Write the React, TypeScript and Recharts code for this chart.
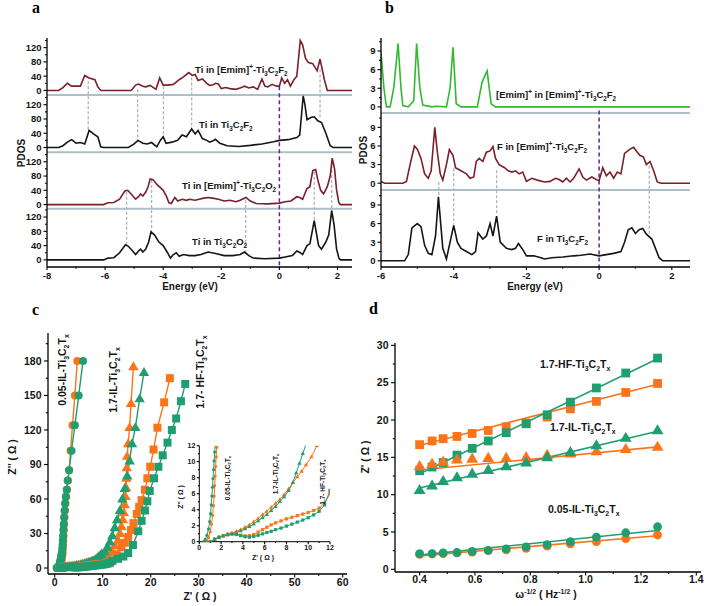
import React from "react";
import { ComposedChart, Line, XAxis, YAxis, ReferenceLine } from "recharts";

const FONT = "Arial, 'Liberation Sans', sans-serif";
const SERIF = "'Liberation Serif', 'Times New Roman', serif";
const ORANGE = "#fb7419";
const GREEN = "#1f9e70";
const WINE = "#7a1f2b";
const INK = "#151515";
const LIME = "#2fba2f";
const SEP = "#adbfc7";
const PURPLE = "#5a2a8c";
const GUIDE = "#a7b6bd";

// ---------- panel a : Ti PDOS (energy, value) ----------
const tiEmimF = [
  [-8, 0], [-7.6, 0], [-7.45, 8], [-7.3, 20], [-7.15, 12], [-7.0, 12], [-6.85, 12], [-6.7, 42], [-6.55, 35],
  [-6.35, 30], [-6.25, 10], [-6.15, 0], [-5.1, 0], [-4.95, 15], [-4.85, 18], [-4.7, 12], [-4.6, 10], [-4.45, 14],
  [-4.25, 3], [-4.12, 35], [-4.0, 15], [-3.85, 15], [-3.65, 17], [-3.45, 30], [-3.3, 38], [-3.12, 50], [-3.0, 42],
  [-2.9, 45], [-2.8, 28], [-2.65, 32], [-2.5, 20], [-2.4, 14], [-2.3, 15], [-2.2, 20], [-2.1, 18], [-2.0, 5],
  [-1.85, 8], [-1.7, 5], [-1.5, 3], [-1.3, 8], [-1.2, 12], [-1.05, 7], [-0.9, 10], [-0.75, 3], [-0.6, 32],
  [-0.5, 12], [-0.4, 10], [-0.25, 17], [-0.1, 12], [0, 12], [0.08, 35], [0.18, 20], [0.28, 30], [0.38, 12],
  [0.5, 30], [0.6, 40], [0.72, 140], [0.8, 128], [0.9, 90], [1.0, 78], [1.15, 75], [1.3, 55], [1.4, 88],
  [1.55, 30], [1.65, 0], [2.5, 0],
];
const tiF = [
  [-8, 0], [-7.6, 0], [-7.45, 5], [-7.3, 15], [-7.15, 22], [-7.0, 12], [-6.85, 14], [-6.7, 10], [-6.55, 48],
  [-6.4, 38], [-6.25, 30], [-6.15, 2], [-6.05, 0], [-5.2, 0], [-5.0, 10], [-4.87, 20], [-4.7, 12], [-4.55, 10],
  [-4.4, 14], [-4.22, 2], [-4.1, 20], [-4.0, 30], [-3.9, 12], [-3.7, 15], [-3.5, 20], [-3.35, 35], [-3.2, 30],
  [-3.02, 52], [-2.9, 38], [-2.8, 48], [-2.65, 25], [-2.5, 20], [-2.4, 15], [-2.3, 18], [-2.2, 23], [-2.05, 12],
  [-1.8, 5], [-1.4, 3], [-1.0, 6], [-0.6, 10], [-0.2, 16], [0, 20], [0.3, 22], [0.6, 28], [0.7, 35], [0.82, 145],
  [0.88, 120], [0.95, 78], [1.1, 85], [1.2, 86], [1.32, 75], [1.45, 70], [1.6, 40], [1.75, 5], [1.85, 0], [2.5, 0],
];
const tiEmimO = [
  [-8, 0], [-6.05, 0], [-5.9, 5], [-5.7, 6], [-5.5, 15], [-5.32, 38], [-5.22, 40], [-5.05, 25], [-4.95, 15],
  [-4.85, 22], [-4.78, 30], [-4.7, 24], [-4.6, 35], [-4.52, 50], [-4.45, 72], [-4.35, 70], [-4.2, 55], [-4.0, 40],
  [-3.9, 25], [-3.8, 5], [-3.72, 3], [-3.6, 20], [-3.5, 10], [-3.35, 15], [-3.2, 12], [-3.1, 15], [-2.9, 12],
  [-2.8, 14], [-2.6, 18], [-2.45, 20], [-2.3, 18], [-2.1, 15], [-1.9, 10], [-1.7, 12], [-1.5, 8], [-1.35, 12],
  [-1.15, 20], [-1.0, 10], [-0.8, 3], [-0.4, 2], [0, 4], [0.2, 8], [0.4, 10], [0.6, 22], [0.7, 20], [0.8, 15],
  [0.95, 45], [1.05, 50], [1.15, 95], [1.25, 98], [1.32, 70], [1.42, 40], [1.52, 30], [1.65, 50], [1.75, 80],
  [1.82, 130], [1.9, 100], [1.97, 40], [2.05, 5], [2.1, 0], [2.5, 0],
];
const tiO = [
  [-8, 0], [-6.05, 0], [-5.9, 5], [-5.7, 6], [-5.5, 20], [-5.3, 42], [-5.2, 38], [-5.05, 25], [-4.95, 15],
  [-4.85, 25], [-4.78, 30], [-4.7, 22], [-4.6, 30], [-4.5, 50], [-4.42, 78], [-4.3, 70], [-4.15, 50], [-4.0, 40],
  [-3.85, 20], [-3.75, 5], [-3.65, 15], [-3.55, 20], [-3.45, 10], [-3.3, 15], [-3.1, 12], [-2.9, 12], [-2.7, 15],
  [-2.45, 22], [-2.2, 18], [-1.9, 12], [-1.6, 12], [-1.35, 15], [-1.2, 22], [-1.05, 12], [-0.9, 5], [-0.5, 3],
  [0, 5], [0.2, 8], [0.45, 12], [0.6, 25], [0.72, 20], [0.8, 15], [0.95, 40], [1.05, 45], [1.2, 110], [1.35, 40],
  [1.45, 30], [1.6, 50], [1.7, 70], [1.8, 138], [1.88, 100], [1.97, 30], [2.05, 5], [2.1, 0], [2.5, 0],
];
// dashed guides: [energy, upper curve value, lower curve value]
const aGuidesTop = [[-6.58, 26, 46], [-4.88, 3, 18], [-3.99, 12, 32], [-3.02, 36, 55], [1.4, 59, 79]];
const aGuidesBottom = [[-5.26, 36, 42], [-4.4, 69, 75], [-1.16, 13, 23], [1.2, 92, 107], [1.8, 125, 135]];

// ---------- panel b : PDOS (energy, value) ----------
const emimInEmim = [
  [-6, 8.8], [-5.92, 3], [-5.85, 0], [-5.75, 0], [-5.65, 3], [-5.53, 10.2], [-5.45, 3], [-5.4, 0.2], [-5.25, 0],
  [-5.1, 1], [-5.02, 10.2], [-4.93, 3], [-4.85, 0.3], [-4.6, 0], [-4.5, 0.1], [-4.2, 0], [-4.1, 3], [-4.02, 9.6],
  [-3.93, 0.5], [-3.8, 0], [-3.35, 0], [-3.22, 4], [-3.08, 5.8], [-2.97, 0.5], [-2.85, 0], [2.5, 0],
];
const fInEmim = [
  [-6, 0.3], [-5.9, 0], [-5.4, 0], [-5.3, 0.3], [-5.2, 3], [-5.08, 6], [-5.0, 5.5], [-4.9, 4], [-4.8, 1.5],
  [-4.7, 0.8], [-4.62, 2], [-4.52, 9], [-4.45, 5], [-4.37, 1.5], [-4.3, 0.5], [-4.2, 3], [-4.12, 5.4], [-4.02, 4.5],
  [-3.95, 2.5], [-3.8, 2], [-3.65, 1.5], [-3.55, 0.8], [-3.45, 1], [-3.38, 3.5], [-3.3, 4], [-3.2, 3.5], [-3.1, 5],
  [-3.0, 5.2], [-2.92, 5.9], [-2.85, 4], [-2.75, 3], [-2.6, 2.5], [-2.5, 2], [-2.4, 1.8], [-2.3, 2], [-2.2, 1.5],
  [-2.1, 1.8], [-2.0, 0.3], [-1.85, 0.8], [-1.7, 0.5], [-1.5, 0.2], [-1.35, 0.3], [-1.2, 0.8], [-1.1, 0.6],
  [-1.0, 0.2], [-0.9, 0.8], [-0.8, 0.2], [-0.7, 0.8], [-0.55, 2.3], [-0.45, 1], [-0.35, 0.5], [-0.2, 1],
  [-0.05, 0.5], [0, 0.4], [0.1, 2.5], [0.2, 1.2], [0.3, 1.8], [0.4, 0.8], [0.5, 1.8], [0.6, 1.5], [0.7, 4.8],
  [0.85, 5.5], [0.95, 5.8], [1.05, 5], [1.12, 4.5], [1.22, 4.2], [1.3, 3], [1.4, 3.5], [1.5, 2], [1.6, 0.2],
  [1.7, 0], [2.5, 0],
];
const fInTi = [
  [-6, 0], [-5.35, 0], [-5.25, 1], [-5.15, 5.3], [-5.0, 6], [-4.9, 5.5], [-4.8, 2.5], [-4.7, 1.2], [-4.6, 1],
  [-4.5, 4], [-4.42, 10.3], [-4.3, 2], [-4.2, 0.3], [-4.1, 3], [-4.0, 5.7], [-3.9, 3], [-3.8, 2], [-3.65, 1.5],
  [-3.5, 1], [-3.4, 1.5], [-3.33, 4.5], [-3.2, 3.5], [-3.1, 4], [-3.0, 6], [-2.92, 4], [-2.82, 7.2], [-2.72, 3],
  [-2.55, 2], [-2.4, 1.8], [-2.3, 2], [-2.22, 2.8], [-2.1, 1.8], [-2.0, 0.8], [-1.8, 0.8], [-1.6, 0.5], [-1.5, 0.3],
  [-1.3, 0.5], [-1.0, 0.6], [-0.7, 0.8], [-0.5, 0.9], [-0.25, 1.1], [0, 0.8], [0.2, 1.0], [0.4, 1.2], [0.6, 1.5],
  [0.7, 3], [0.8, 5], [0.9, 5.3], [1.0, 4.4], [1.1, 5], [1.2, 5.2], [1.3, 4.3], [1.45, 3.5], [1.55, 2], [1.65, 0.5],
  [1.75, 0], [2.5, 0],
];
const bGuides = [[-4.41, 0.2, 10.3], [-4.0, 2.4, 5.8], [-2.82, 2.1, 7.4], [1.38, 2.8, 4.0]];

// ---------- panel c : Nyquist (Z', Z'') ----------
const c05Orange = [
  [0.7, 0], [0.85, 0.5], [1.0, 1.2], [1.12, 2.2], [1.22, 3.3], [1.3, 4.5], [1.36, 5.7], [1.41, 7], [1.46, 8.2],
  [1.5, 9.4], [1.55, 10.6], [1.6, 11.8], [1.65, 14], [1.7, 17], [1.75, 20], [1.8, 24], [1.85, 28], [1.9, 33],
  [1.97, 38], [2.05, 44], [2.15, 50], [2.25, 56], [2.4, 62], [2.55, 68], [2.75, 76], [3.0, 85], [3.3, 102],
  [3.7, 124], [4.2, 150], [4.7, 180],
];
const c05Green = [
  [0.4, 0], [0.55, 0.3], [0.7, 0.8], [0.85, 1.6], [0.95, 2.5], [1.03, 3.5], [1.1, 4.6], [1.16, 5.7], [1.21, 6.8],
  [1.26, 7.9], [1.31, 9], [1.36, 10.1], [1.41, 11.2], [1.46, 12.3], [1.52, 14], [1.58, 17], [1.63, 20], [1.68, 24],
  [1.74, 28], [1.8, 33], [1.88, 38], [1.96, 44], [2.05, 50], [2.15, 56], [2.3, 62], [2.5, 68], [2.7, 76], [3.0, 85],
  [3.5, 102], [4.2, 124], [5.0, 150], [5.9, 180],
];
const cILOrange = [
  [1.0, 0], [1.4, 0.3], [1.8, 0.55], [2.2, 0.75], [2.6, 0.95], [3.0, 1.1], [3.4, 1.3], [3.8, 1.5], [4.2, 1.8],
  [4.6, 2.1], [5.0, 2.5], [5.4, 2.9], [5.8, 3.4], [6.2, 3.8], [6.6, 4.3], [7.0, 4.8], [7.4, 5.3], [7.8, 5.9],
  [8.2, 6.6], [8.6, 7.4], [9.0, 8.1], [9.4, 8.8], [9.8, 9.6], [10.3, 10.6], [10.8, 12], [11.2, 13], [11.8, 15],
  [12.5, 19], [13.2, 24], [13.6, 30], [13.9, 36], [14.2, 42], [14.4, 48], [14.6, 55], [14.75, 62], [14.85, 70],
  [14.95, 78], [15.0, 87], [15.1, 97], [15.3, 108], [15.6, 122], [15.9, 143], [16.4, 175],
];
const cILGreen = [
  [1.0, 0], [1.4, 0.3], [1.8, 0.55], [2.2, 0.72], [2.6, 0.88], [3.0, 1.0], [3.4, 1.15], [3.8, 1.35], [4.2, 1.6],
  [4.6, 1.9], [5.0, 2.2], [5.4, 2.6], [5.8, 3.0], [6.2, 3.4], [6.6, 3.9], [7.0, 4.4], [7.4, 5.0], [7.8, 5.6],
  [8.2, 6.4], [8.6, 7.4], [8.9, 8.6], [9.2, 9.8], [9.5, 11], [9.8, 12.2], [10.4, 14], [11, 18], [11.5, 22.6],
  [12, 28], [12.5, 35], [13, 42], [13.6, 50], [14.1, 60], [14.6, 69], [15.1, 80], [15.6, 93], [16.1, 108],
  [16.8, 122], [17.7, 147], [18.6, 170],
];
const cHFOrange = [
  [1.0, 0], [1.4, 0.3], [1.8, 0.55], [2.2, 0.75], [2.6, 0.92], [3.0, 1.0], [3.4, 0.95], [3.8, 0.82], [4.2, 0.72],
  [4.6, 0.75], [5.0, 0.9], [5.4, 1.2], [5.8, 1.5], [6.2, 1.8], [6.6, 2.1], [7.0, 2.35], [7.5, 2.6], [8.0, 2.85],
  [8.5, 3.05], [9.0, 3.25], [9.5, 3.45], [10.0, 3.65], [10.5, 3.9], [11.0, 4.2], [11.5, 4.8], [12.0, 6.0],
  [12.9, 12], [13.9, 18], [14.6, 22], [15.3, 27], [15.9, 33], [16.4, 39], [17.1, 47], [17.6, 53], [18.1, 59],
  [18.8, 68], [19.3, 78], [19.9, 88], [20.6, 103], [21.4, 122], [22.8, 144], [24.0, 165],
];
const cHFGreen = [
  [1.0, 0], [1.4, 0.3], [1.8, 0.55], [2.2, 0.72], [2.6, 0.86], [3.0, 0.95], [3.4, 0.9], [3.8, 0.75], [4.2, 0.62],
  [4.6, 0.56], [5.0, 0.65], [5.4, 0.8], [5.8, 0.98], [6.2, 1.15], [6.6, 1.3], [7.0, 1.5], [7.5, 1.7], [8.0, 1.95],
  [8.5, 2.2], [9.0, 2.45], [9.5, 2.7], [10.0, 3.0], [10.5, 3.35], [11.0, 3.8], [11.5, 4.6], [12.0, 6.4],
  [13.2, 8], [14.3, 10], [15.3, 13], [16.3, 20], [17.4, 32], [18.1, 41], [18.8, 50], [19.3, 58], [19.8, 67],
  [20.7, 78], [21.6, 88], [22.5, 98], [23.5, 109], [24.4, 120], [25.3, 130], [26.3, 145], [27.2, 160],
];

// ---------- panel d : Z' vs w^-1/2 ----------
const dOmega = [0.4, 0.445, 0.485, 0.535, 0.59, 0.648, 0.713, 0.785, 0.861, 0.945, 1.039, 1.145, 1.26];
const dHFOrange = [16.7, 17.2, 17.5, 17.8, 18.2, 18.6, 19.1, 19.6, 20.4, 21.5, 22.5, 23.7, 24.9];
const dHFGreen = [13.2, 13.7, 14.3, 15.3, 16.2, 17.2, 18.3, 19.5, 20.7, 22.4, 24.3, 26.3, 28.3];
const dILOrange = [13.8, 14.1, 14.4, 14.7, 14.8, 14.9, 14.9, 15.0, 15.3, 15.5, 15.8, 16.1, 16.4];
const dILGreen = [10.6, 11.2, 11.8, 12.3, 12.8, 13.3, 13.8, 14.3, 15.0, 15.7, 16.6, 17.6, 18.6];
const d05Green = [2.1, 2.1, 2.2, 2.25, 2.4, 2.55, 2.75, 3.0, 3.3, 3.7, 4.3, 4.9, 5.7];
const d05Orange = [2.0, 2.05, 2.1, 2.2, 2.3, 2.5, 2.6, 2.8, 3.1, 3.4, 3.7, 4.1, 4.6];
const dFitX = [0.4, 1.26];
const dHFOrangeFit = [16.6, 24.8];
const dHFGreenFit = [12.8, 28.2];
const dILOrangeFit = [13.3, 16.4];
const dILGreenFit = [10.9, 18.5];
const d05GreenFit = [1.9, 5.2];
const d05OrangeFit = [1.8, 4.5];

// ---------- helpers ----------
const shifted = (pairs: number[][], off: number) => pairs.map(([x, y]) => ({ x, y: y + off }));
const toPts = (pairs: number[][]) => pairs.map(([x, y]) => ({ x, y }));
const zipPts = (xs: number[], ys: number[]) => xs.map((x, i) => ({ x, y: ys[i] }));
const near = (a: number, b: number) => Math.abs(a - b) < 1e-6;

const stackTicks = (offs: number[], major: number[], minor: number[]) =>
  offs.flatMap((o) => [...major, ...minor].map((m) => +(o + m).toFixed(4)));
const stackLabel = (offs: number[], major: number[]) => (v: number) => {
  for (const o of offs) for (const m of major) if (near(v, o + m)) return String(m);
  return null;
};
const listLabel = (major: number[], fmt: (v: number) => string = String) => (v: number) =>
  major.some((m) => near(m, v)) ? fmt(v) : null;

type TickOpts = { side: "left" | "bottom"; label: (v: number) => string | null; fs: number; len?: number; gap?: number };
const tickRenderer = ({ side, label, fs, len = 4, gap = 2 }: TickOpts) => (props: any) => {
  const { x, y, payload } = props;
  const txt = label(payload.value);
  const l = txt === null ? len * 0.55 : len;
  if (side === "left") {
    return (
      <g>
        <line x1={x} x2={x - l} y1={y} y2={y} stroke="#000" strokeWidth={1.1} />
        {txt !== null && (
          <text x={x - len - gap} y={y} dy={fs * 0.36} textAnchor="end" fontSize={fs} fontWeight="bold" fontFamily={FONT} fill={INK}>
            {txt}
          </text>
        )}
      </g>
    );
  }
  return (
    <g>
      <line x1={x} x2={x} y1={y} y2={y + l} stroke="#000" strokeWidth={1.1} />
      {txt !== null && (
        <text x={x} y={y + len + gap + fs * 0.72} textAnchor="middle" fontSize={fs} fontWeight="bold" fontFamily={FONT} fill={INK}>
          {txt}
        </text>
      )}
    </g>
  );
};

function Mark({ cx, cy, shape, r, color }: { cx?: number; cy?: number; shape: string; r: number; color: string }) {
  if (cx == null || cy == null || Number.isNaN(cx) || Number.isNaN(cy)) return null;
  if (shape === "circle") return <circle cx={cx} cy={cy} r={r} fill={color} />;
  if (shape === "square") return <rect x={cx - r} y={cy - r} width={2 * r} height={2 * r} fill={color} />;
  const h = r * 1.2;
  return <polygon points={`${cx},${cy - h} ${cx - h * 0.95},${cy + h * 0.62} ${cx + h * 0.95},${cy + h * 0.62}`} fill={color} />;
}

// text with _x / ^x (or _{..} / ^{..}) sub- and superscripts
function Rich({ x, y, s, size = 10, anchor = "start", rotate = 0 }: { x: number; y: number; s: string; size?: number; anchor?: "start" | "middle" | "end"; rotate?: number }) {
  const parts: { t: string; k: number }[] = [];
  let buf = "";
  let i = 0;
  while (i < s.length) {
    const c = s[i];
    if (c === "_" || c === "^") {
      if (buf) parts.push({ t: buf, k: 0 });
      buf = "";
      let t = "";
      if (s[i + 1] === "{") {
        const j = s.indexOf("}", i);
        t = s.slice(i + 2, j);
        i = j + 1;
      } else {
        t = s[i + 1];
        i += 2;
      }
      parts.push({ t, k: c === "_" ? 1 : -1 });
    } else {
      buf += c;
      i++;
    }
  }
  if (buf) parts.push({ t: buf, k: 0 });
  let cur = 0;
  return (
    <text
      x={x}
      y={y}
      fontSize={size}
      fontWeight="bold"
      fontFamily={FONT}
      fill={INK}
      textAnchor={anchor}
      transform={rotate ? `rotate(${rotate} ${x} ${y})` : undefined}
    >
      {parts.map((p, idx) => {
        const target = p.k === 1 ? size * 0.3 : p.k === -1 ? -size * 0.42 : 0;
        const dy = target - cur;
        cur = target;
        return (
          <tspan key={idx} dy={dy} fontSize={p.k ? size * 0.66 : size}>
            {p.t}
          </tspan>
        );
      })}
    </text>
  );
}

const frameAxes = (xd: number[], yd: number[]) => [
  <XAxis key="ft" xAxisId="top" orientation="top" type="number" domain={xd} allowDataOverflow tick={false} tickLine={false} height={0} axisLine={{ stroke: "#000", strokeWidth: 1.3 }} />,
  <YAxis key="fr" yAxisId="right" orientation="right" type="number" domain={yd} allowDataOverflow tick={false} tickLine={false} width={0} axisLine={{ stroke: "#000", strokeWidth: 1.3 }} />,
];

const guideLines = (rows: number[][], offTop: number, offBottom: number) =>
  rows.map(([e, a, b], i) => (
    <ReferenceLine
      key={`g${offTop}-${i}`}
      segment={[{ x: e, y: a + offTop }, { x: e, y: b + offBottom }]}
      stroke={GUIDE}
      strokeWidth={1.3}
      strokeDasharray="3 2"
      ifOverflow="visible"
    />
  ));

// ---------- panel a ----------
const aOffsets = [475, 315, 155, 0];
const aDomainY = [-20, 622];
const aDomainX = [-8, 2.5];

function PanelA() {
  const yTicks = stackTicks(aOffsets, [0, 40, 80, 120], [20, 60, 100, 140]);
  const curves: [number[][], string][] = [[tiEmimF, WINE], [tiF, INK], [tiEmimO, WINE], [tiO, INK]];
  return (
    <ComposedChart width={353} height={300} margin={{ top: 38, right: 1, left: 0, bottom: 0 }}>
      <XAxis dataKey="x" type="number" domain={aDomainX} allowDataOverflow ticks={[-8, -7, -6, -5, -4, -3, -2, -1, 0, 1, 2]} interval={0}
        tick={tickRenderer({ side: "bottom", label: listLabel([-8, -6, -4, -2, 0, 2]), fs: 9.5, len: 3 })}
        tickLine={false} tickSize={0} tickMargin={0} height={33} axisLine={{ stroke: "#000", strokeWidth: 1.3 }} />
      <YAxis type="number" domain={aDomainY} allowDataOverflow ticks={yTicks} interval={0}
        tick={tickRenderer({ side: "left", label: stackLabel(aOffsets, [0, 40, 80, 120]), fs: 9.5, len: 3.5 })}
        tickLine={false} tickSize={0} tickMargin={0} width={47} axisLine={{ stroke: "#000", strokeWidth: 1.3 }} />
      {frameAxes(aDomainX, aDomainY)}
      {[462, 302, 143].map((v) => (
        <ReferenceLine key={`s${v}`} y={v} stroke={SEP} strokeWidth={2} />
      ))}
      {guideLines(aGuidesTop, 475, 315)}
      {guideLines(aGuidesBottom, 155, 0)}
      <ReferenceLine segment={[{ x: 0, y: 487 }, { x: 0, y: -20 }]} stroke={PURPLE} strokeWidth={1.5} strokeDasharray="4 3" />
      {curves.map(([d, c], i) => (
        <Line key={i} data={shifted(d, aOffsets[i])} dataKey="y" type="linear" stroke={c} strokeWidth={1.6} dot={false} activeDot={false} isAnimationActive={false} />
      ))}
    </ComposedChart>
  );
}

// ---------- panel b ----------
const bOffsets = [24.8, 12.5, 0];
const bDomainY = [-1, 35.9];
const bDomainX = [-6, 2.5];

function PanelB() {
  const yTicks = stackTicks(bOffsets, [0, 3, 6, 9], [1.5, 4.5, 7.5, 10.5]);
  const curves: [number[][], string][] = [[emimInEmim, LIME], [fInEmim, WINE], [fInTi, INK]];
  return (
    <ComposedChart width={353} height={300} margin={{ top: 38, right: 16, left: 0, bottom: 0 }}>
      <XAxis dataKey="x" type="number" domain={bDomainX} allowDataOverflow ticks={[-6, -5, -4, -3, -2, -1, 0, 1, 2]} interval={0}
        tick={tickRenderer({ side: "bottom", label: listLabel([-6, -4, -2, 0, 2]), fs: 9.5, len: 3 })}
        tickLine={false} tickSize={0} tickMargin={0} height={33} axisLine={{ stroke: "#000", strokeWidth: 1.3 }} />
      <YAxis type="number" domain={bDomainY} allowDataOverflow ticks={yTicks} interval={0}
        tick={tickRenderer({ side: "left", label: stackLabel(bOffsets, [0, 3, 6, 9]), fs: 9.5, len: 3.5 })}
        tickLine={false} tickSize={0} tickMargin={0} width={28} axisLine={{ stroke: "#000", strokeWidth: 1.3 }} />
      {frameAxes(bDomainX, bDomainY)}
      {[23.8, 11.4].map((v) => (
        <ReferenceLine key={`s${v}`} y={v} stroke={SEP} strokeWidth={2} />
      ))}
      {guideLines(bGuides, 12.5, 0)}
      <ReferenceLine segment={[{ x: 0, y: 24.2 }, { x: 0, y: -1 }]} stroke={PURPLE} strokeWidth={1.5} strokeDasharray="4 3" />
      {curves.map(([d, c], i) => (
        <Line key={i} data={shifted(d, bOffsets[i])} dataKey="y" type="linear" stroke={c} strokeWidth={1.6} dot={false} activeDot={false} isAnimationActive={false} />
      ))}
    </ComposedChart>
  );
}

// ---------- panel c ----------
const cSeries: { d: number[][]; c: string; s: string }[] = [
  { d: c05Orange, c: ORANGE, s: "circle" },
  { d: c05Green, c: GREEN, s: "circle" },
  { d: cILOrange, c: ORANGE, s: "triangle" },
  { d: cILGreen, c: GREEN, s: "triangle" },
  { d: cHFOrange, c: ORANGE, s: "square" },
  { d: cHFGreen, c: GREEN, s: "square" },
];
const cDomainX = [-1.4, 60.9];
const cDomainY = [-5.2, 204.3];

function PanelC() {
  return (
    <ComposedChart width={353} height={306} margin={{ top: 33, right: 6, left: 0, bottom: 0 }}>
      <XAxis dataKey="x" type="number" domain={cDomainX} allowDataOverflow ticks={[0, 5, 10, 15, 20, 25, 30, 35, 40, 45, 50, 55, 60]} interval={0}
        tick={tickRenderer({ side: "bottom", label: listLabel([0, 10, 20, 30, 40, 50, 60]), fs: 10.5, len: 3.5, gap: 1 })}
        tickLine={false} tickSize={0} tickMargin={0} height={32} axisLine={{ stroke: "#000", strokeWidth: 1.3 }} />
      <YAxis type="number" domain={cDomainY} allowDataOverflow ticks={[0, 15, 30, 45, 60, 75, 90, 105, 120, 135, 150, 165, 180, 195]} interval={0}
        tick={tickRenderer({ side: "left", label: listLabel([0, 30, 60, 90, 120, 150, 180]), fs: 10.5, len: 4, gap: 2.5 })}
        tickLine={false} tickSize={0} tickMargin={0} width={48} axisLine={{ stroke: "#000", strokeWidth: 1.3 }} />
      {frameAxes(cDomainX, cDomainY)}
      {cSeries.map((sr, i) => (
        <Line key={i} data={toPts(sr.d)} dataKey="y" type="linear" stroke={sr.c} strokeWidth={1.4} activeDot={false} isAnimationActive={false}
          dot={(p: any) => <Mark key={`c${i}-${p.index}`} cx={p.cx} cy={p.cy} shape={sr.s} r={sr.s === "triangle" ? 4.6 : 4} color={sr.c} />} />
      ))}
    </ComposedChart>
  );
}

const insetDomain = [0, 12];
function InsetC() {
  const t = [0, 1, 2, 3, 4, 5, 6, 7, 8, 9, 10, 11, 12];
  const maj = [0, 2, 4, 6, 8, 10, 12];
  return (
    <ComposedChart width={158} height={125} margin={{ top: 5.7, right: 4, left: 0, bottom: 0 }}>
      <XAxis dataKey="x" type="number" domain={insetDomain} allowDataOverflow ticks={t} interval={0}
        tick={tickRenderer({ side: "bottom", label: listLabel(maj), fs: 7, len: 2.5, gap: 1 })}
        tickLine={false} tickSize={0} tickMargin={0} height={23.3} axisLine={{ stroke: "#000", strokeWidth: 1 }} />
      <YAxis type="number" domain={insetDomain} allowDataOverflow ticks={t} interval={0}
        tick={tickRenderer({ side: "left", label: listLabel(maj), fs: 7, len: 2.5, gap: 1.5 })}
        tickLine={false} tickSize={0} tickMargin={0} width={23.3} axisLine={{ stroke: "#000", strokeWidth: 1 }} />
      {frameAxes(insetDomain, insetDomain)}
      {cSeries.map((sr, i) => (
        <Line key={i} data={toPts(sr.d)} dataKey="y" type="linear" stroke={sr.c} strokeWidth={1} activeDot={false} isAnimationActive={false}
          dot={(p: any) => <Mark key={`i${i}-${p.index}`} cx={p.cx} cy={p.cy} shape={sr.s} r={sr.s === "triangle" ? 1.9 : 1.6} color={sr.c} />} />
      ))}
    </ComposedChart>
  );
}

// ---------- panel d ----------
const dSeries: { y: number[]; fit: number[]; c: string; s: string }[] = [
  { y: dHFOrange, fit: dHFOrangeFit, c: ORANGE, s: "square" },
  { y: dHFGreen, fit: dHFGreenFit, c: GREEN, s: "square" },
  { y: dILOrange, fit: dILOrangeFit, c: ORANGE, s: "triangle" },
  { y: dILGreen, fit: dILGreenFit, c: GREEN, s: "triangle" },
  { y: d05Orange, fit: d05OrangeFit, c: ORANGE, s: "circle" },
  { y: d05Green, fit: d05GreenFit, c: GREEN, s: "circle" },
];
const dDomainX = [0.311, 1.417];
const dDomainY = [-0.36, 30.32];

function PanelD() {
  return (
    <ComposedChart width={353} height={306} margin={{ top: 43, right: 5, left: 0, bottom: 0 }}>
      <XAxis dataKey="x" type="number" domain={dDomainX} allowDataOverflow ticks={[0.4, 0.5, 0.6, 0.7, 0.8, 0.9, 1.0, 1.1, 1.2, 1.3, 1.4]} interval={0}
        tick={tickRenderer({ side: "bottom", label: listLabel([0.4, 0.6, 0.8, 1.0, 1.2, 1.4], (v) => v.toFixed(1)), fs: 10.5, len: 3.5, gap: 0 })}
        tickLine={false} tickSize={0} tickMargin={0} height={34} axisLine={{ stroke: "#000", strokeWidth: 1.3 }} />
      <YAxis type="number" domain={dDomainY} allowDataOverflow ticks={[0, 2.5, 5, 7.5, 10, 12.5, 15, 17.5, 20, 22.5, 25, 27.5, 30]} interval={0}
        tick={tickRenderer({ side: "left", label: listLabel([0, 5, 10, 15, 20, 25, 30]), fs: 10.5, len: 4, gap: 2.5 })}
        tickLine={false} tickSize={0} tickMargin={0} width={42} axisLine={{ stroke: "#000", strokeWidth: 1.3 }} />
      {frameAxes(dDomainX, dDomainY)}
      {dSeries.map((sr, i) => (
        <Line key={`f${i}`} data={zipPts(dFitX, sr.fit)} dataKey="y" type="linear" stroke={sr.c} strokeWidth={1.6} dot={false} activeDot={false} isAnimationActive={false} />
      ))}
      {dSeries.map((sr, i) => (
        <Line key={`p${i}`} data={zipPts(dOmega, sr.y)} dataKey="y" type="linear" stroke="none" activeDot={false} isAnimationActive={false}
          dot={(p: any) => <Mark key={`d${i}-${p.index}`} cx={p.cx} cy={p.cy} shape={sr.s} r={sr.s === "triangle" ? 5.2 : 4.4} color={sr.c} />} />
      ))}
    </ComposedChart>
  );
}

function Annotations() {
  return (
    <svg width={706} height={606} style={{ position: "absolute", left: 0, top: 0, pointerEvents: "none" }}>
      <g fontFamily={SERIF} fontWeight="bold" fontSize={16} fill="#000">
        <text x={32} y={13}>a</text>
        <text x={385} y={13}>b</text>
        <text x={32} y={315}>c</text>
        <text x={369} y={314}>d</text>
      </g>
      {/* panel a */}
      <Rich x={195} y={73} s="Ti in [Emim]^+-Ti_3C_2F_2" size={9.5} />
      <Rich x={199} y={128} s="Ti in Ti_3C_2F_2" size={9.5} />
      <Rich x={182} y={189} s="Ti in [Emim]^+-Ti_3C_2O_2" size={9.5} />
      <Rich x={192} y={245} s="Ti in Ti_3C_2O_2" size={9.5} />
      <Rich x={25} y={153} s="PDOS" size={10} anchor="middle" rotate={-90} />
      <Rich x={190} y={289.5} s="Energy (eV)" size={10} anchor="middle" />
      {/* panel b */}
      <Rich x={496} y={98} s="[Emim]^+ in [Emim]^+-Ti_3C_2F_2" size={9.5} />
      <Rich x={497} y={150} s="F in [Emim]^+-Ti_3C_2F_2" size={9.5} />
      <Rich x={537} y={242} s="F in Ti_3C_2F_2" size={9.5} />
      <Rich x={366.5} y={150} s="PDOS" size={10} anchor="middle" rotate={-90} />
      <Rich x={535} y={290} s="Energy (eV)" size={10} anchor="middle" />
      {/* panel c */}
      <Rich x={15.5} y={457} s="Z'' ( Ω )" size={10.5} anchor="middle" rotate={-90} />
      <Rich x={200} y={599.5} s="Z' ( Ω )" size={10.5} anchor="middle" />
      <Rich x={66} y={370} s="0.05-IL-Ti_3C_2T_x" size={10.5} anchor="middle" rotate={-90} />
      <Rich x={117} y={380} s="1.7-IL-Ti_3C_2T_x" size={10.5} anchor="middle" rotate={-90} />
      <Rich x={204} y={372} s="1.7- HF-Ti_3C_2T_x" size={10.5} anchor="middle" rotate={-90} />
      <Rich x={229.5} y={478} s="0.05-IL-Ti_3C_2T_x" size={6.5} anchor="middle" rotate={-90} />
      <Rich x={277.5} y={474} s="1.7-IL-Ti_3C_2T_x" size={6.5} anchor="middle" rotate={-90} />
      <Rich x={324.5} y={482} s="1.7- HF-Ti_3C_2T_x" size={6.5} anchor="middle" rotate={-90} />
      <Rich x={183} y={497} s="Z'' ( Ω )" size={7} anchor="middle" rotate={-90} />
      <Rich x={263} y={560} s="Z' ( Ω )" size={7} anchor="middle" />
      {/* panel d */}
      <Rich x={368.5} y={457} s="Z' ( Ω )" size={10.5} anchor="middle" rotate={-90} />
      <Rich x={546} y={598} s="ω^{-1/2} ( Hz^{-1/2} )" size={10.5} anchor="middle" />
      <Rich x={540} y={368} s="1.7-HF-Ti_3C_2T_x" size={10.5} />
      <Rich x={550} y={431} s="1.7-IL-Ti_3C_2T_x" size={10.5} />
      <Rich x={548} y={513} s="0.05-IL-Ti_3C_2T_x" size={10.5} />
    </svg>
  );
}

export default function App() {
  return (
    <div style={{ position: "absolute", left: 0, top: 0, width: 706, height: 606, background: "#fff", overflow: "hidden" }}>
      <div style={{ position: "absolute", left: 0, top: 0 }}>
        <PanelA />
      </div>
      <div style={{ position: "absolute", left: 353, top: 0 }}>
        <PanelB />
      </div>
      <div style={{ position: "absolute", left: 0, top: 300 }}>
        <PanelC />
      </div>
      <div style={{ position: "absolute", left: 176, top: 440 }}>
        <InsetC />
      </div>
      <div style={{ position: "absolute", left: 353, top: 300 }}>
        <PanelD />
      </div>
      <Annotations />
    </div>
  );
}
